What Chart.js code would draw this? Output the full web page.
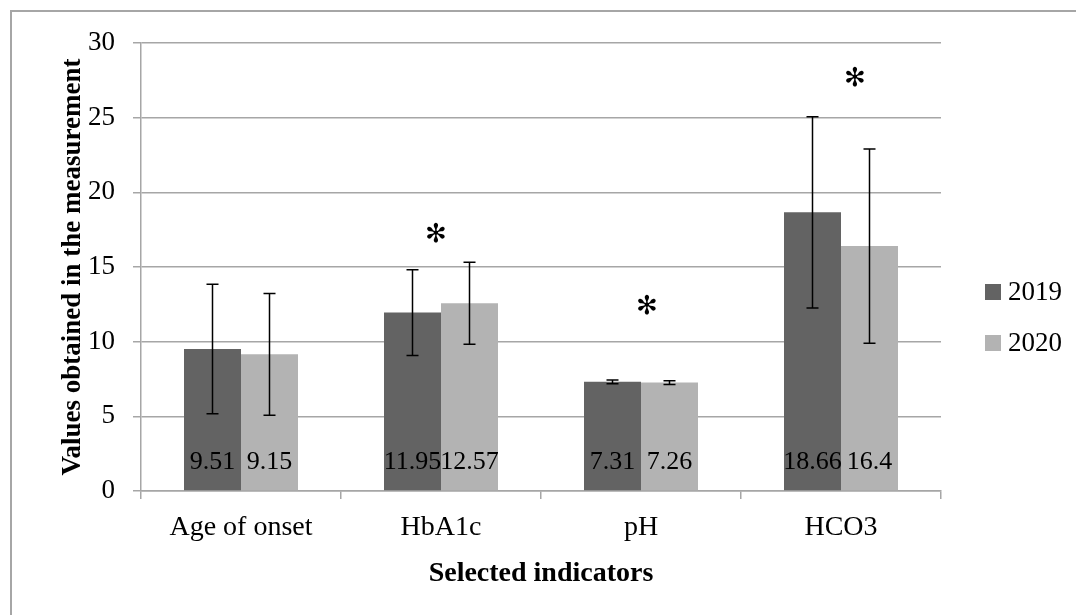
<!DOCTYPE html>
<html>
<head>
<meta charset="utf-8">
<script src="https://cdn.jsdelivr.net/npm/chart.js@4.4.1/dist/chart.umd.min.js"></script>
<style>
  html, body { margin: 0; padding: 0; background: #fff; overflow: hidden; }
  #wrap { position: relative; width: 1076px; height: 615px; }
  #frame { position: absolute; left: 10px; top: 10px; width: 1100px; height: 700px; border: 2px solid #a6a6a6; box-sizing: border-box; }
  canvas { position: absolute; left: 0; top: 0; }
</style>
</head>
<body>
<div id="wrap">
  <div id="frame"></div>
  <canvas id="chart" width="1076" height="615"></canvas>
</div>
<script>
const categories = ['Age of onset', 'HbA1c', 'pH', 'HCO3'];
const values2019 = [9.51, 11.95, 7.31, 18.66];
const values2020 = [9.15, 12.57, 7.26, 16.4];
const sd2019 = [4.33, 2.87, 0.12, 6.4];
const sd2020 = [4.08, 2.74, 0.13, 6.5];
// significance marks: position along the category axis and height
const starX = [0.975, 2.03, 3.07];
const starY = [17.1, 12.3, 27.6];
const yTicks = [0, 5, 10, 15, 20, 25, 30];

const FONT = "'Liberation Serif', serif";
const dark = '#636363';
const light = '#b3b3b3';
const sds = [sd2019, sd2020];

const extras = {
  id: 'extras',
  afterDatasetsDraw(chart) {
    const ctx = chart.ctx;
    const y = chart.scales.y;
    const x = chart.scales.x;
    ctx.save();
    // error bars
    chart.data.datasets.forEach((ds, di) => {
      const meta = chart.getDatasetMeta(di);
      meta.data.forEach((bar, i) => {
        const v = ds.data[i], e = sds[di][i];
        const top = y.getPixelForValue(v + e);
        const bot = y.getPixelForValue(v - e);
        ctx.strokeStyle = '#000';
        ctx.lineWidth = 1.5;
        ctx.beginPath();
        ctx.moveTo(bar.x, top); ctx.lineTo(bar.x, bot);
        ctx.moveTo(bar.x - 6, top); ctx.lineTo(bar.x + 6, top);
        ctx.moveTo(bar.x - 6, bot); ctx.lineTo(bar.x + 6, bot);
        ctx.stroke();
      });
    });
    // value labels near the bottom of each bar
    ctx.fillStyle = '#000';
    ctx.font = '26px ' + FONT;
    ctx.textAlign = 'center';
    ctx.textBaseline = 'middle';
    chart.data.datasets.forEach((ds, di) => {
      chart.getDatasetMeta(di).data.forEach((bar, i) => {
        ctx.fillText(String(ds.data[i]), bar.x, y.getPixelForValue(1.95));
      });
    });
    // significance marks
    ctx.font = 'bold 26px "DejaVu Sans"';
    starX.forEach((sx, i) => {
      ctx.fillText('\u273B', x.getPixelForValue(sx), y.getPixelForValue(starY[i]));
    });
    // legend
    ctx.textAlign = 'left';
    ctx.font = '27px ' + FONT;
    chart.data.datasets.forEach((ds, di) => {
      const ly = 292 + di * 51;
      ctx.fillStyle = ds.backgroundColor;
      ctx.fillRect(985, ly - 8, 16, 16);
      ctx.fillStyle = '#000';
      ctx.fillText(ds.label, 1008, ly + 1);
    });
    ctx.restore();
  }
};

new Chart(document.getElementById('chart'), {
  type: 'bar',
  data: {
    labels: categories,
    datasets: [
      { label: '2019', data: values2019, backgroundColor: dark },
      { label: '2020', data: values2020, backgroundColor: light }
    ]
  },
  options: {
    responsive: false,
    animation: false,
    devicePixelRatio: 1,
    layout: { padding: { left: 57, right: 135, top: 43, bottom: 0 } },
    datasets: { bar: { barPercentage: 1, categoryPercentage: 0.57 } },
    plugins: { legend: { display: false }, tooltip: { enabled: false } },
    scales: {
      x: {
        afterFit(s) { s.height = 124; },
        grid: { offset: true, drawOnChartArea: false, color: '#a6a6a6', tickLength: 8, lineWidth: 1.5 },
        border: { color: '#a6a6a6', width: 1.5 },
        ticks: { color: '#000', font: { family: FONT, size: 28 }, padding: 12 },
        title: { display: true, text: 'Selected indicators', color: '#000',
                 font: { family: FONT, size: 28, weight: 'bold' }, padding: { top: 0, bottom: 24 } }
      },
      y: {
        min: 0, max: 30,
        afterFit(s) { s.width = 84; },
        afterBuildTicks(s) { s.ticks = yTicks.map(v => ({ value: v })); },
        grid: { color: '#a6a6a6', tickLength: 8, lineWidth: 1.5 },
        border: { color: '#a6a6a6', width: 1.5 },
        ticks: { color: '#000', font: { family: FONT, size: 27 }, padding: 18 },
        title: { display: true, text: 'Values obtained in the measurement', color: '#000',
                 font: { family: FONT, size: 27, weight: 'bold' }, padding: { top: 0, bottom: 0 } }
      }
    }
  },
  plugins: [extras]
});
</script>
</body>
</html>
